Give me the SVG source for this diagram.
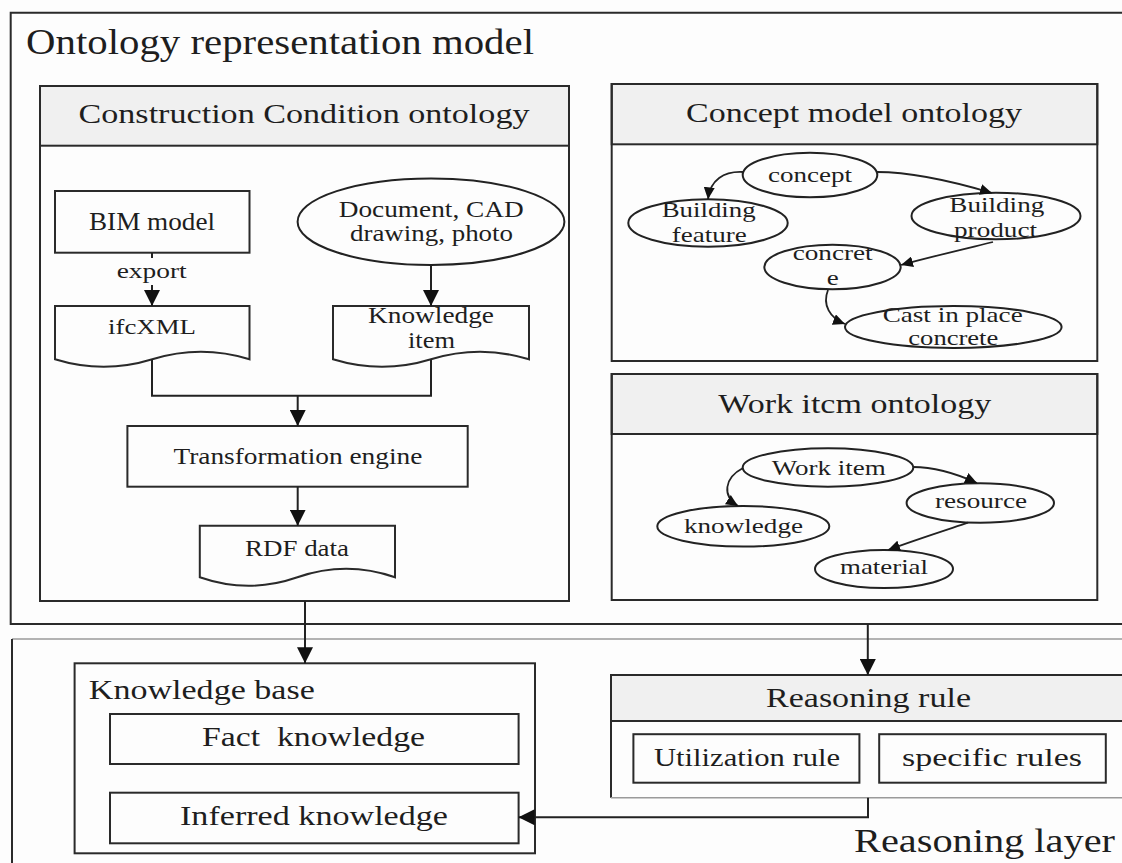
<svg xmlns="http://www.w3.org/2000/svg" width="1122" height="863" viewBox="0 0 1122 863">
  <style>
    text { font-family: "Liberation Serif", "Times New Roman", serif; fill: #1e1e1e; }
    .box { fill: none; stroke: #2a2a2a; stroke-width: 2; }
    .head { fill: #f0f0f0; stroke: #2a2a2a; stroke-width: 2; }
    .thin { fill: none; stroke: #9a9a9a; stroke-width: 1.5; }
    .oval { fill: none; stroke: #222; stroke-width: 2; }
    .wire { fill: none; stroke: #222; stroke-width: 2; }
    .edge { fill: none; stroke: #222; stroke-width: 1.8; }
    .h { font-size: 28px; }
    .n { font-size: 21px; }
  </style>
  <defs>
    <marker id="arr" markerUnits="userSpaceOnUse" markerWidth="16" markerHeight="16" refX="16" refY="8" orient="auto">
      <path d="M0,0 L16,8 L0,16 z" fill="#111"/>
    </marker>
    <marker id="arrs" markerUnits="userSpaceOnUse" markerWidth="12" markerHeight="11" refX="12" refY="5.5" orient="auto">
      <path d="M0,0 L12,5.5 L0,11 z" fill="#111"/>
    </marker>
  </defs>

  <rect width="1122" height="863" fill="#fdfdfd"/>

  <!-- upper layer frame (open on the right) -->
  <g id="ontology-model">
    <path class="box" d="M1122,12.7 H10.7 V624 H1122"/>
    <text x="26" y="53.5" font-size="36" textLength="508" lengthAdjust="spacingAndGlyphs">Ontology representation model</text>
  </g>

  <!-- lower layer frame -->
  <g id="reasoning-layer">
    <path class="thin" d="M12,639 H1122"/>
    <path class="box" d="M12,639 V863"/>
    <text x="854" y="851.7" font-size="34" textLength="261" lengthAdjust="spacingAndGlyphs">Reasoning layer</text>
  </g>

  <!-- Construction Condition ontology -->
  <g id="construction-condition">
    <rect class="head" x="40" y="86" width="529" height="59.7"/>
    <rect class="box" x="40" y="86" width="529" height="515"/>
    <text class="h" x="78.5" y="123.3" textLength="451" lengthAdjust="spacingAndGlyphs">Construction Condition ontology</text>
  </g>

  <g id="bim-model">
    <rect class="box" x="55" y="191" width="194.5" height="61.7"/>
    <text x="89" y="230" font-size="25" textLength="126" lengthAdjust="spacingAndGlyphs">BIM model</text>
  </g>

  <g id="document-source">
    <ellipse class="oval" cx="431" cy="221.7" rx="133.4" ry="43.3"/>
    <text x="338.7" y="216.7" font-size="23" textLength="185" lengthAdjust="spacingAndGlyphs">Document, CAD</text>
    <text x="350" y="240.7" font-size="23" textLength="163" lengthAdjust="spacingAndGlyphs">drawing, photo</text>
  </g>

  <g id="ifcxml">
    <path class="box" d="M55,306 H249.5 V359.3 Q200.9,344.3 152.3,359.3 T55,359.3 Z"/>
    <text x="108" y="334.3" font-size="22" textLength="88" lengthAdjust="spacingAndGlyphs">ifcXML</text>
  </g>

  <g id="knowledge-item">
    <path class="box" d="M333,306 H529 V359.3 Q480,344.3 431,359.3 T333,359.3 Z"/>
    <text x="368" y="323.3" font-size="23" textLength="126" lengthAdjust="spacingAndGlyphs">Knowledge</text>
    <text x="408" y="347.7" font-size="23" textLength="47" lengthAdjust="spacingAndGlyphs">item</text>
  </g>

  <g id="transformation-engine">
    <rect class="box" x="127.4" y="426" width="340.3" height="60.7"/>
    <text x="173.4" y="464.3" font-size="23" textLength="249" lengthAdjust="spacingAndGlyphs">Transformation engine</text>
  </g>

  <g id="rdf-data">
    <path class="box" d="M199.8,525.7 H395 V577.3 Q346.2,560.3 297.4,577.3 T199.8,577.3 Z"/>
    <text x="245" y="556" font-size="24" textLength="104" lengthAdjust="spacingAndGlyphs">RDF data</text>
  </g>

  <!-- Concept model ontology -->
  <g id="concept-model">
    <rect class="head" x="611.7" y="84" width="485.6" height="60.3"/>
    <rect class="box" x="611.7" y="84" width="485.6" height="277"/>
    <text class="h" x="686" y="121.7" textLength="336" lengthAdjust="spacingAndGlyphs">Concept model ontology</text>
  </g>
  <g id="c-concept">
    <ellipse class="oval" cx="810" cy="175" rx="67.3" ry="22.3"/>
    <text class="n" x="768" y="181.7" textLength="84" lengthAdjust="spacingAndGlyphs">concept</text>
  </g>
  <g id="c-building-feature">
    <ellipse class="oval" cx="708" cy="223" rx="79.7" ry="23.7"/>
    <text class="n" x="661.7" y="216.7" textLength="94" lengthAdjust="spacingAndGlyphs">Building</text>
    <text class="n" x="671.7" y="242.3" textLength="75" lengthAdjust="spacingAndGlyphs">feature</text>
  </g>
  <g id="c-building-product">
    <ellipse class="oval" cx="996" cy="216" rx="84.5" ry="23.3"/>
    <text class="n" x="949.3" y="211.7" textLength="95" lengthAdjust="spacingAndGlyphs">Building</text>
    <text class="n" x="954" y="236.7" textLength="83" lengthAdjust="spacingAndGlyphs">product</text>
  </g>
  <g id="c-concrete">
    <ellipse class="oval" cx="832.5" cy="267" rx="68.2" ry="22.2"/>
    <text class="n" x="792.7" y="260" textLength="80" lengthAdjust="spacingAndGlyphs">concret</text>
    <text class="n" x="832.7" y="285" text-anchor="middle" textLength="12" lengthAdjust="spacingAndGlyphs">e</text>
  </g>
  <g id="c-cast-in-place">
    <ellipse class="oval" cx="953.3" cy="327" rx="108.3" ry="21"/>
    <text class="n" x="882.7" y="321.7" textLength="140" lengthAdjust="spacingAndGlyphs">Cast in place</text>
    <text class="n" x="908.3" y="345" textLength="90" lengthAdjust="spacingAndGlyphs">concrete</text>
  </g>

  <!-- Work item ontology -->
  <g id="work-item-model">
    <rect class="head" x="611.7" y="374" width="485.6" height="60"/>
    <rect class="box" x="611.7" y="374" width="485.6" height="226"/>
    <text class="h" x="718.3" y="412.7" textLength="273" lengthAdjust="spacingAndGlyphs">Work itcm ontology</text>
  </g>
  <g id="w-work-item">
    <ellipse class="oval" cx="828" cy="467.5" rx="85.3" ry="19.2"/>
    <text class="n" x="771.7" y="475" textLength="114" lengthAdjust="spacingAndGlyphs">Work item</text>
  </g>
  <g id="w-resource">
    <ellipse class="oval" cx="980.3" cy="503" rx="73.7" ry="19.7"/>
    <text class="n" x="935" y="508.3" textLength="92" lengthAdjust="spacingAndGlyphs">resource</text>
  </g>
  <g id="w-knowledge">
    <ellipse class="oval" cx="743.3" cy="526.3" rx="86" ry="20.3"/>
    <text class="n" x="684" y="533.3" textLength="119" lengthAdjust="spacingAndGlyphs">knowledge</text>
  </g>
  <g id="w-material">
    <ellipse class="oval" cx="884" cy="569" rx="69" ry="19"/>
    <text class="n" x="840" y="574" textLength="88" lengthAdjust="spacingAndGlyphs">material</text>
  </g>

  <!-- Knowledge base -->
  <g id="knowledge-base">
    <rect class="box" x="74.6" y="663.3" width="460.4" height="190"/>
    <text x="88.8" y="699.3" font-size="27" textLength="226" lengthAdjust="spacingAndGlyphs">Knowledge base</text>
  </g>
  <g id="fact-knowledge">
    <rect class="box" x="110" y="714" width="408.6" height="50"/>
    <text x="202" y="746" font-size="27" xml:space="preserve" textLength="223" lengthAdjust="spacingAndGlyphs">Fact  knowledge</text>
  </g>
  <g id="inferred-knowledge">
    <rect class="box" x="110" y="792.7" width="408.6" height="50.6"/>
    <text x="180" y="825" font-size="27" textLength="268" lengthAdjust="spacingAndGlyphs">Inferred knowledge</text>
  </g>

  <!-- Reasoning rule (open on the right) -->
  <g id="reasoning-rule">
    <rect x="611" y="675" width="511" height="46" fill="#f0f0f0"/>
    <path class="box" d="M1122,675 H611 V797.7"/>
    <path class="box" d="M611,721 H1122"/>
    <path class="thin" d="M611,797.7 H1122"/>
    <text class="h" x="766" y="706.7" textLength="205" lengthAdjust="spacingAndGlyphs">Reasoning rule</text>
  </g>
  <g id="utilization-rule">
    <rect class="box" x="633.4" y="734.2" width="226" height="48.5"/>
    <text x="654" y="765.7" font-size="25" textLength="186" lengthAdjust="spacingAndGlyphs">Utilization rule</text>
  </g>
  <g id="specific-rules">
    <rect class="box" x="879.2" y="734.2" width="226.6" height="48.5"/>
    <text x="902" y="765.7" font-size="25" textLength="180" lengthAdjust="spacingAndGlyphs">specific rules</text>
  </g>

  <!-- connectors -->
  <g id="connectors">
    <path class="wire" d="M152,253 V258"/>
    <text x="116.7" y="278" font-size="22" textLength="70" lengthAdjust="spacingAndGlyphs">export</text>
    <path class="wire" d="M152,285 V306" marker-end="url(#arr)"/>
    <path class="wire" d="M431,265 V306" marker-end="url(#arr)"/>
    <path class="wire" d="M152,359 V395.7 H431 V359"/>
    <path class="wire" d="M297.7,395.7 V426" marker-end="url(#arr)"/>
    <path class="wire" d="M297.7,486.7 V525.7" marker-end="url(#arr)"/>
    <path class="wire" d="M305,601 V663.3" marker-end="url(#arr)"/>
    <path class="wire" d="M867.8,624 V675" marker-end="url(#arr)"/>
    <path class="wire" d="M868,797.7 V817.3 H518.6" marker-end="url(#arr)"/>

    <path class="edge" d="M743,172 C724,171 710,180 708,199.3" marker-end="url(#arrs)"/>
    <path class="edge" d="M877,172 C915,172 955,182 992,193" marker-end="url(#arrs)"/>
    <path class="edge" d="M993,242 C960,250 930,257 901,265" marker-end="url(#arrs)"/>
    <path class="edge" d="M828,290 C822,305 830,318 845,324" marker-end="url(#arrs)"/>

    <path class="edge" d="M743,468 C724,478 722,496 738,506" marker-end="url(#arrs)"/>
    <path class="edge" d="M913,467 C935,467 955,473 977,483" marker-end="url(#arrs)"/>
    <path class="edge" d="M968,522.7 C940,532 915,540 888,550" marker-end="url(#arrs)"/>
  </g>
</svg>
